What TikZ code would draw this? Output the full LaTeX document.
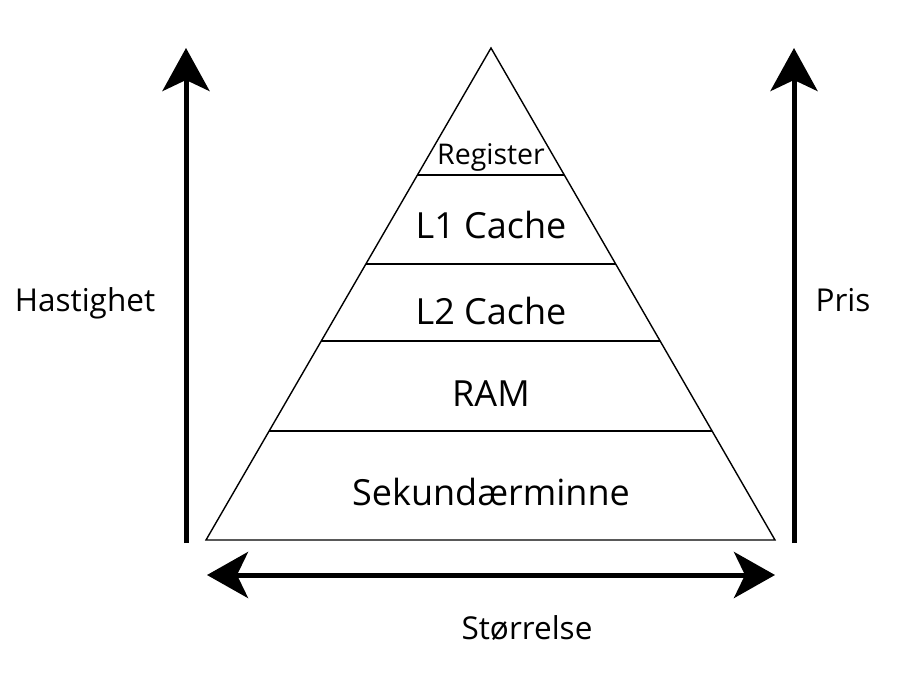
\documentclass[tikz,border=0pt]{standalone}
\usepackage{fontspec}
\setmainfont{Open Sans}
\usetikzlibrary{arrows.meta}
\begin{document}
\begin{tikzpicture}[x=1pt,y=-1pt,
  level/.style={line width=1.4pt},
  bigarrow/.style={line width=5pt,-{Stealth[length=43pt,width=47pt,inset=11pt]}},
  bothway/.style={line width=5pt,{Stealth[length=41pt,width=46pt,inset=11pt]}-{Stealth[length=41pt,width=46pt,inset=11pt]}},
  label/.style={inner sep=0pt,anchor=base},
  big/.style={font=\fontsize{36}{42}\selectfont},
  side/.style={font=\fontsize{31.5}{36}\selectfont},
]
\useasboundingbox (0,0) rectangle (923,693);

% pyramid outline
\coordinate (top) at (491,48);
\coordinate (bl) at (206,540);
\coordinate (br) at (775,540);
\draw[level,line join=miter] (top) -- (bl) -- (br) -- cycle;

% dividers between the levels
\foreach \y/\n in {175/a,264/b,341/c,431/d}{
  \path (top) -- (bl) coordinate[pos={(\y-48)/492}] (l\n);
  \path (top) -- (br) coordinate[pos={(\y-48)/492}] (r\n);
  \draw[level] (l\n) -- (r\n);
}

% level names
\node[label,font=\fontsize{28.5}{32}\selectfont] (reg) at (491,164) {Register};
\node[label,big] (l1) at (491,238) {L1 Cache};
\node[label,big] (l2) at (491,324) {L2 Cache};
\node[label,big] (ram) at (491,406) {RAM};
\node[label,big] (sek) at (491,505) {Sekundærminne};

% axes
\coordinate (hs) at (186,543);
\coordinate (he) at (186,48);
\coordinate (ps) at (794,543);
\coordinate (pe) at (794,48);
\coordinate (sl) at (207,575);
\coordinate (sr) at (775,575);
\draw[bigarrow] (hs) -- (he);
\draw[bigarrow] (ps) -- (pe);
\draw[bothway] (sl) -- (sr);

\node[label,side] (hast) at (85,311) {Hastighet};
\node[label,side] (pris) at (843,311) {Pris};
\node[label,side] (stor) at (527,639) {Størrelse};
\end{tikzpicture}
\end{document}
